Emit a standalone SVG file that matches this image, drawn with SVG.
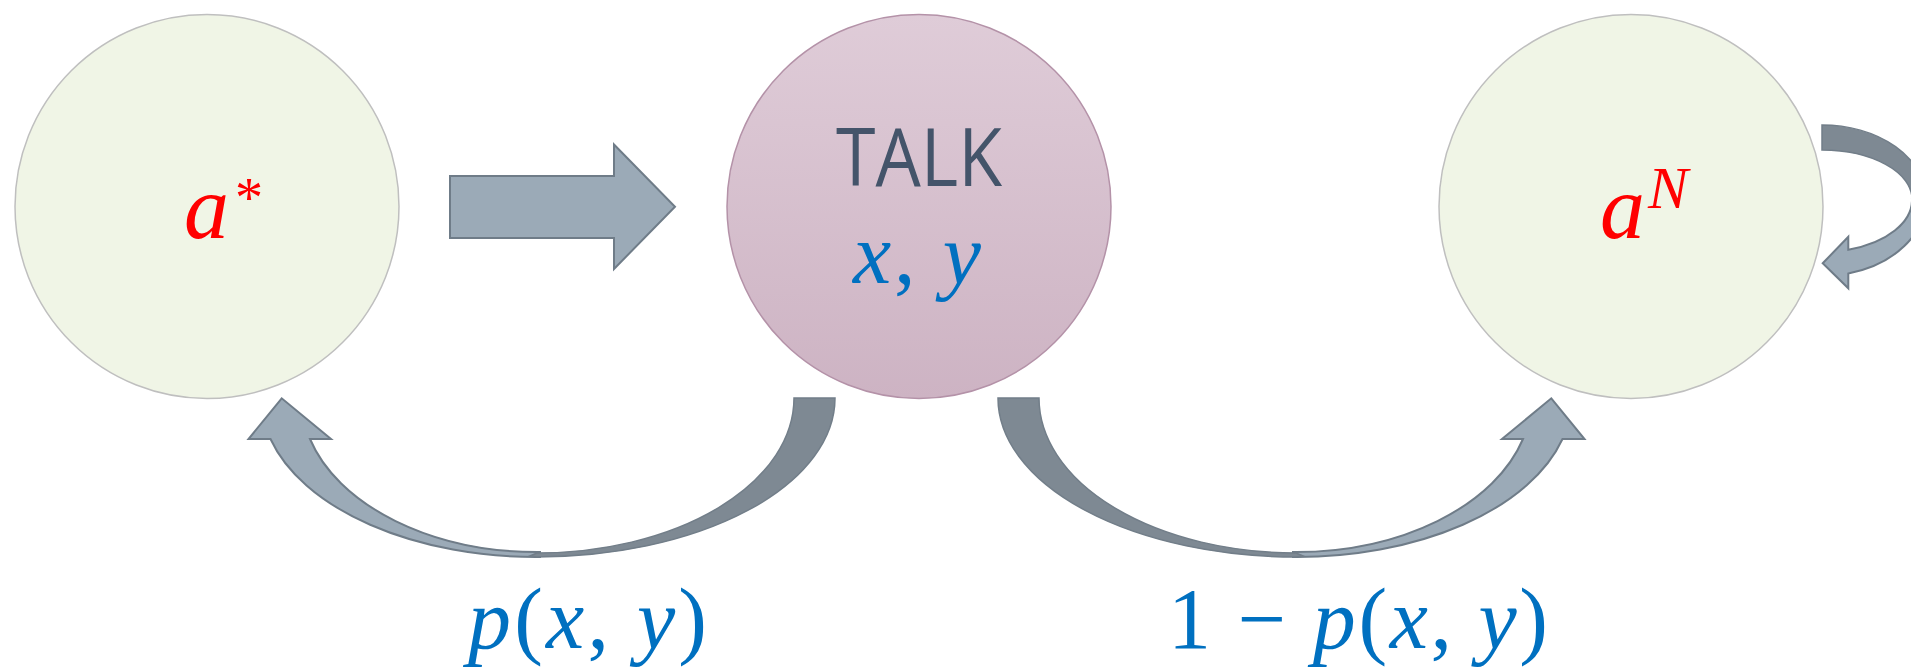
<svg xmlns="http://www.w3.org/2000/svg" width="1911" height="670" viewBox="0 0 1911 670">
<defs>
<linearGradient id="talkGrad" x1="0" y1="0" x2="0" y2="1">
<stop offset="0" stop-color="#DFCCD8"/>
<stop offset="1" stop-color="#CDB3C3"/>
</linearGradient>
<style>
.state{fill:#F0F5E6;stroke:#BFBFBF;stroke-width:1.5}
.talk{fill:url(#talkGrad);stroke:#B492A8;stroke-width:1.5}
.light{fill:#9BAAB7;stroke:#6F7C88;stroke-width:2;stroke-linejoin:miter}
.dark{fill:#7E8993;stroke:#727E89;stroke-width:1.5}
.math{font-family:"Liberation Serif","DejaVu Serif",serif;font-style:italic}
.up{font-style:normal}
.red{fill:#FF0000}
.blue{fill:#0070C0}
.title{font-family:"Open Sans","Liberation Sans",sans-serif;font-weight:400;fill:#44546A}
</style>
</defs>
<rect width="1911" height="670" fill="#FFFFFF"/>

<g id="connectors">
<polygon id="arrow-right" class="light" points="450,176 614,176 614,144.5 675,206.7 614,269 614,238 450,238"/>
<g id="arrow-left-curve">
<path class="light" d="M 310,439 A 236,154 0 0 0 540,552 L 540,557 A 275,159 0 0 1 270.5,439 L 248.5,439 L 281.7,398.3 L 331,439 Z"/>
<path class="dark" d="M 794,398 L 835,398 A 298,159 0 0 1 537,557 L 530,556 L 537,553 A 257,155 0 0 0 794,398 Z"/>
</g>
<g id="arrow-right-curve" transform="translate(1833,0) scale(-1,1)">
<path class="light" d="M 310,439 A 236,154 0 0 0 540,552 L 540,557 A 275,159 0 0 1 270.5,439 L 248.5,439 L 281.7,398.3 L 331,439 Z"/>
<path class="dark" d="M 794,398 L 835,398 A 298,159 0 0 1 537,557 L 530,556 L 537,553 A 257,155 0 0 0 794,398 Z"/>
</g>
<g id="self-loop">
<path class="light" d="M 1912,199 A 90,52 0 0 1 1848.3,249.7 L 1848.3,236.7 L 1822.7,263.3 L 1848.3,288.3 L 1848.3,273.5 A 104,77 0 0 0 1926,199 Z"/>
<path class="dark" d="M 1822,125 A 104,74 0 0 1 1926,199 L 1912,199 A 90,49 0 0 0 1822,150 Z"/>
</g>
<text class="math blue" font-size="86" x="468" y="648" textLength="239" lengthAdjust="spacing">p<tspan class="up">(</tspan>x<tspan class="up">, </tspan>y<tspan class="up">)</tspan></text>
<text class="math blue" font-size="86" x="1168" y="648" textLength="380" lengthAdjust="spacing"><tspan class="up">1 − </tspan>p<tspan class="up">(</tspan>x<tspan class="up">, </tspan>y<tspan class="up">)</tspan></text>
</g>

<g id="node-astar">
<circle class="state" cx="207" cy="206.5" r="192"/>
<text class="math red" font-size="90" x="184" y="238">a<tspan class="up" font-size="56" x="235" y="217">*</tspan></text>
</g>

<g id="node-talk">
<circle class="talk" cx="919" cy="206.5" r="192"/>
<text class="title" font-size="80" x="836" y="186" textLength="166" lengthAdjust="spacingAndGlyphs">TALK</text>
<text class="math blue" font-size="86" x="853" y="283" textLength="128" lengthAdjust="spacing">x<tspan class="up">, </tspan>y</text>
</g>

<g id="node-aN">
<circle class="state" cx="1631" cy="206.5" r="192"/>
<text class="math red" font-size="90" x="1600" y="238">a<tspan font-size="60" x="1648" y="208">N</tspan></text>
</g>
</svg>
